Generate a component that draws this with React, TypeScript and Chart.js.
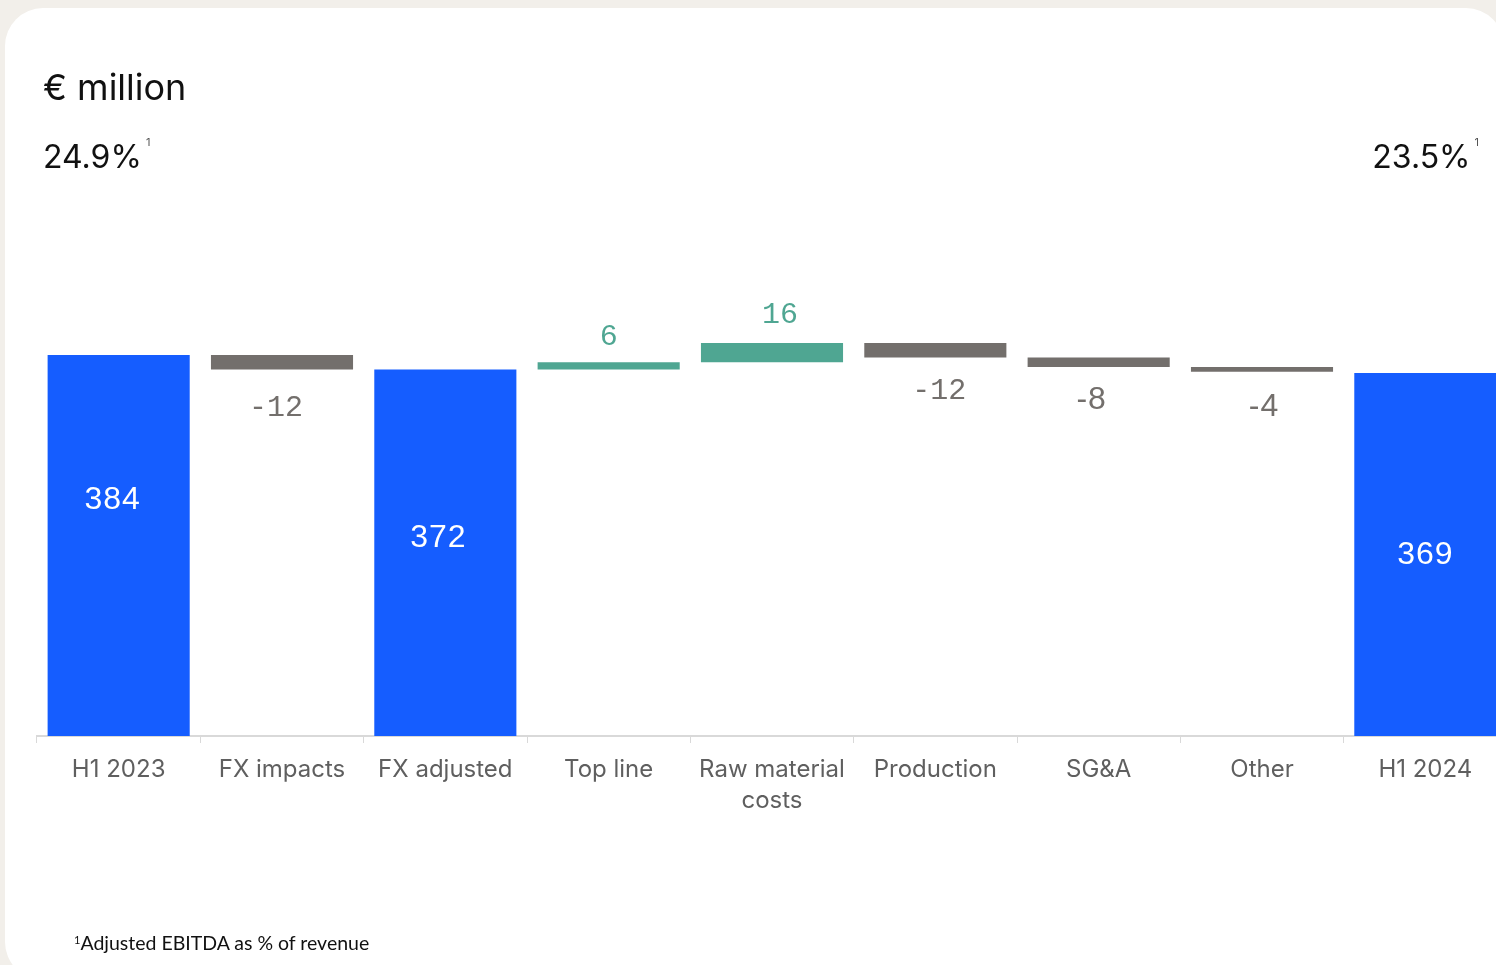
import React, { useEffect, useRef } from "react";
import { Chart, registerables } from "chart.js";

Chart.register(...registerables);

// ---- data ----
const categories: string[][] = [
  ["H1 2023"],
  ["FX impacts"],
  ["FX adjusted"],
  ["Top line"],
  ["Raw material", "costs"],
  ["Production"],
  ["SG&A"],
  ["Other"],
  ["H1 2024"],
];
const barLabels = ["384", "-12", "372", "6", "16", "-12", "-8", "-4", "369"];
const barStarts = [0, 372, 0, 372, 378, 382, 374, 370, 0];
const barEnds = [384, 384, 372, 378, 394, 394, 382, 374, 369];
const barKinds = ["total", "down", "total", "up", "up", "down", "down", "down", "total"];
const marginStart = "24.9%";
const marginEnd = "23.5%";

// ---- style ----
const COLORS: Record<string, string> = { total: "#155dff", up: "#4fa692", down: "#736f6c" };
const LABEL_COLORS: Record<string, string> = { total: "#ffffff", up: "#4fa692", down: "#736f6c" };
const labelDy = [145, 39, 169, 25, 28, 34, 33, 35, 182];
const labelDx = [-6, -6, -7, 0, 8, 4, -7, 2, 0];
const MONO = '30px "Liberation Mono"';
const SANS = '32px "Liberation Sans"';
const labelFonts = [SANS, MONO, SANS, MONO, MONO, MONO, SANS, SANS, SANS];

const labelPlugin = {
  id: "wfLabels",
  afterDatasetsDraw(chart: any) {
    const ctx = chart.ctx as CanvasRenderingContext2D;
    const meta = chart.getDatasetMeta(0);
    ctx.save();
    meta.data.forEach((el: any, i: number) => {
      const top = Math.min(el.y, el.base);
      const bottom = Math.max(el.y, el.base);
      const kind = barKinds[i];
      let y = 0;
      if (kind === "total") y = top + labelDy[i];
      else if (kind === "up") y = top - labelDy[i];
      else y = bottom + labelDy[i];
      ctx.font = labelFonts[i];
      (ctx as any).letterSpacing = labelFonts[i] === SANS ? "1px" : "0px";
      ctx.fillStyle = LABEL_COLORS[kind];
      ctx.textAlign = "center";
      ctx.textBaseline = "middle";
      ctx.fillText(barLabels[i], el.x + labelDx[i], y);
    });
    ctx.restore();
  },
};

export default function App() {
  const canvasRef = useRef<HTMLCanvasElement | null>(null);

  useEffect(() => {
    if (!canvasRef.current) return;
    const chart = new Chart(canvasRef.current, {
      type: "bar",
      data: {
        labels: categories as any,
        datasets: [
          {
            data: barStarts.map((s, i) => [s, barEnds[i]]) as any,
            backgroundColor: barKinds.map((k) => COLORS[k]),
            borderWidth: 0,
            categoryPercentage: 1,
            barPercentage: 0.87,
            clip: 0 as any,
          },
        ],
      },
      options: {
        animation: false,
        responsive: false,
        maintainAspectRatio: false,
        layout: { padding: { top: 200, bottom: 129, left: 37, right: 13 } },
        plugins: { legend: { display: false }, tooltip: { enabled: false } },
        scales: {
          y: { display: false, min: 66.5, max: 513.2 },
          x: {
            afterFit: (s: any) => {
              s.height = 100;
            },
            grid: {
              display: true,
              drawOnChartArea: false,
              drawTicks: true,
              tickLength: 7,
              color: "#d9d9d9",
              offset: true,
            },
            border: { display: true, color: "#d9d9d9", width: 2 },
            ticks: {
              color: "#5f5f5f",
              font: { family: "Inter", size: 24, lineHeight: 1.3 },
              padding: 11,
              maxRotation: 0,
              autoSkip: false,
            },
          },
        },
      },
      plugins: [labelPlugin],
    });
    return () => chart.destroy();
  }, []);

  return (
    <div
      style={{
        position: "fixed",
        left: 0,
        top: 0,
        width: 1496,
        height: 965,
        overflow: "hidden",
        background: "#f2efea",
        fontFamily: "Inter, sans-serif",
      }}
    >
      <div
        style={{
          position: "absolute",
          left: 5,
          top: 8,
          width: 1499,
          height: 972,
          background: "#ffffff",
          borderRadius: 38,
        }}
      />
      <canvas
        ref={canvasRef}
        width={1520}
        height={965}
        style={{ position: "absolute", left: 0, top: 0, width: 1520, height: 965 }}
      />
      <div
        style={{ position: "absolute", left: 43, top: 65, fontSize: 36, color: "#111", lineHeight: "44px", whiteSpace: "nowrap" }}
      >
        € million
      </div>
      <div
        style={{ position: "absolute", left: 43, top: 122, fontSize: 32, color: "#111", lineHeight: "40px", whiteSpace: "nowrap" }}
      >
        {marginStart}
        <sup style={{ fontSize: 11, color: "#555", marginLeft: 4, verticalAlign: 22 }}>1</sup>
      </div>
      <div
        style={{ position: "absolute", right: 17, top: 122, fontSize: 32, color: "#111", lineHeight: "40px", whiteSpace: "nowrap" }}
      >
        {marginEnd}
        <sup style={{ fontSize: 11, color: "#555", marginLeft: 4, verticalAlign: 22 }}>1</sup>
      </div>
      <div
        style={{
          position: "absolute",
          left: 74,
          top: 928,
          fontSize: 19.5,
          color: "#111",
          lineHeight: "24px",
          whiteSpace: "nowrap",
          fontFamily: "Lato, sans-serif",
        }}
      >
        <sup style={{ fontSize: 11, verticalAlign: 6 }}>1</sup>Adjusted EBITDA as % of revenue
      </div>
    </div>
  );
}
